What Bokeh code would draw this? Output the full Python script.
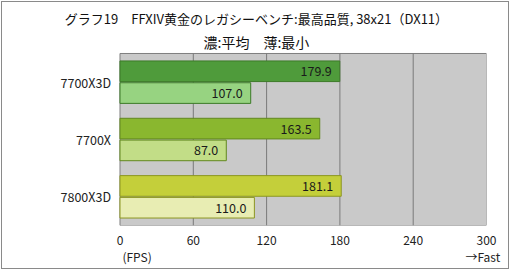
from bokeh.plotting import figure
from bokeh.models import ColumnDataSource, Range1d, FixedTicker, LinearAxis
from bokeh.core.properties import value
from bokeh.embed import file_html
from bokeh.resources import INLINE

# ---- data ----
cpus = ["7700X3D", "7700X", "7800X3D"]
avg_fps = [179.9, 163.5, 181.1]
min_fps = [107.0, 87.0, 110.0]
x_ticks = [0, 60, 120, 180, 240, 300]
title1 = "グラフ19\u3000FFXIV黄金のレガシーベンチ:最高品質, 38x21（DX11）"
title2 = "濃:平均\u3000薄:最小"
unit_label = "(FPS)"
dir_label = "→Fast"

# ---- styles / layout ----
dark_colors = ["#4f9b3b", "#8ab72f", "#c4cf3a"]
light_colors = ["#97d381", "#c2dd87", "#e8edb3"]
line_colors = ["#3c7a28", "#62881f", "#8c9622"]
FONT = "Noto Sans CJK JP"
BAR_OFF = 0.19
BAR_H = 0.36

n = len(cpus)
pos = [n - i for i in range(n)]          # 7700X3D at top
plot_lo, plot_hi = 0.5, n + 0.5          # extent of the gray plot area
y_top = plot_lo + 3.8895                 # room above the plot area for the titles
x_left = -96.18                          # room left of the plot area for the labels

src = ColumnDataSource(dict(
    cpu=cpus, pos=pos, avg=avg_fps, mn=min_fps,
    y_avg=[v + BAR_OFF for v in pos], y_mn=[v - BAR_OFF for v in pos],
    avg_txt=[f"{v:.1f}" for v in avg_fps],
    mn_txt=[f"{v:.1f}" for v in min_fps],
    zero=[0] * n,
    dark=dark_colors, light=light_colors, edge=line_colors,
))

p = figure(
    width=508, height=268,
    x_range=Range1d(x_left, x_ticks[-1]),
    y_range=Range1d(plot_lo, y_top),
    y_axis_location=None,
    output_backend="svg", toolbar_location=None,
    min_border_left=0, min_border_right=24,
    min_border_top=0, min_border_bottom=45,
)
p.title.visible = False
p.styles = {"border": "1px solid #8a8a8a", "margin-left": "1px", "margin-top": "1px"}
p.background_fill_color = "white"
p.border_fill_color = "white"
p.outline_line_color = None
p.xgrid.grid_line_color = None
p.ygrid.grid_line_color = None

# plot area background and its frame
p.quad(left=[x_ticks[0]], right=[x_ticks[-1]], bottom=[plot_lo], top=[plot_hi],
       fill_color="#c9c9c9", line_color="#7f7f7f", line_width=1)
# vertical grid lines at the inner ticks
inner = x_ticks[1:-1]
p.segment(x0=inner, x1=inner, y0=[plot_lo] * len(inner), y1=[plot_hi] * len(inner),
          line_color="#7a7a7a", line_width=1)

p.hbar(y="y_avg", right="avg", left=0, height=BAR_H,
       source=src, fill_color="dark", line_color="edge", line_width=1)
p.hbar(y="y_mn", right="mn", left=0, height=BAR_H,
       source=src, fill_color="light", line_color="edge", line_width=1)

p.text(x="avg", y="y_avg", text="avg_txt", source=src,
       x_offset=-8, text_align="right", text_baseline="middle",
       text_font=value(FONT), text_font_size="12.5px", text_color="#1a1a1a")
p.text(x="mn", y="y_mn", text="mn_txt", source=src,
       x_offset=-8, text_align="right", text_baseline="middle",
       text_font=value(FONT), text_font_size="12.5px", text_color="#1a1a1a")

# category labels left of the plot area
p.text(x="zero", y="pos", text="cpu", source=src,
       x_offset=-9, text_align="right", text_baseline="middle",
       text_font=value(FONT), text_font_size="12.5px", text_color="#222222")

# titles
p.text(x=[111.7], y=[plot_lo + 3.619], text=[title1], text_align="center",
       text_baseline="middle", text_font=value(FONT), text_font_size="13px",
       text_color="#111111")
p.text(x=[111.7], y=[plot_lo + 3.20], text=[title2], text_align="center",
       text_baseline="middle", text_font=value(FONT), text_font_size="14px",
       text_color="#111111")

# x axes
p.xaxis.ticker = FixedTicker(ticks=x_ticks)
note_axis = LinearAxis(ticker=FixedTicker(ticks=[14, 297]),
                       major_label_overrides={14: unit_label, 297: dir_label})
p.add_layout(note_axis, "below")

for ax in (p.xaxis[0], note_axis):
    ax.axis_line_color = None
    ax.major_tick_line_color = None
    ax.minor_tick_line_color = None
    ax.major_tick_out = 0
    ax.major_label_text_font = FONT
    ax.major_label_text_font_size = "12px"
    ax.major_label_text_color = "#222222"
p.xaxis[0].major_label_standoff = 10
note_axis.major_label_standoff = 0

open("out.html", "w").write(file_html(p, INLINE))
